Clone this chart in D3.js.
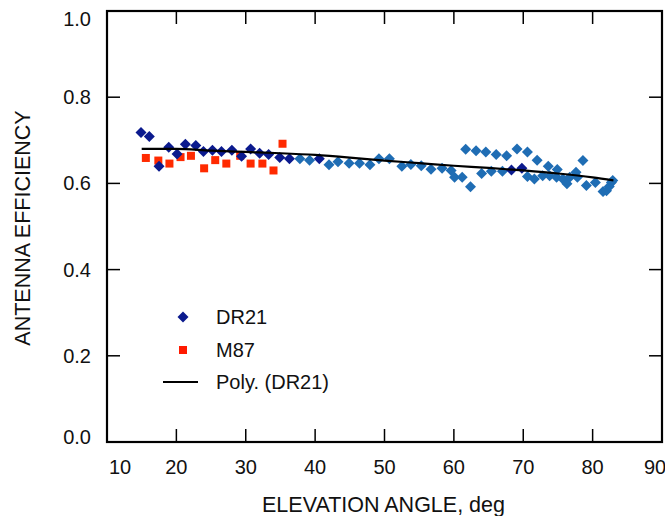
<!DOCTYPE html>
<html>
<head>
<meta charset="utf-8">
<script src="https://cdn.jsdelivr.net/npm/d3@7/dist/d3.min.js"></script>
<style>
  html, body { margin: 0; padding: 0; background: #fff; }
  svg { display: block; font-family: "Liberation Sans", Arial, Helvetica, sans-serif; }
</style>
</head>
<body>
<svg id="chart" width="665" height="516"></svg>
<script>
// DR21 scans, early session (dark markers): [elevation deg, efficiency]
const dr21Early = [
  [14.9, 0.718], [16.1, 0.709], [17.5, 0.640], [18.9, 0.684], [20.1, 0.668],
  [21.3, 0.691], [22.8, 0.688], [23.9, 0.674], [25.2, 0.677], [26.5, 0.674],
  [28.0, 0.677], [29.4, 0.663], [30.7, 0.680], [32.0, 0.670], [33.3, 0.667],
  [34.9, 0.660], [36.3, 0.657], [40.6, 0.657], [68.3, 0.631], [69.8, 0.635]
];
// DR21 scans, later session (lighter markers)
const dr21Late = [
  [37.8, 0.657], [39.2, 0.654], [42.0, 0.643], [43.3, 0.650], [44.9, 0.647],
  [46.4, 0.647], [47.9, 0.643], [49.2, 0.657], [50.7, 0.657], [52.5, 0.640],
  [53.8, 0.644], [55.3, 0.641], [56.7, 0.633], [58.3, 0.635], [59.6, 0.630],
  [60.1, 0.614], [61.2, 0.614], [61.7, 0.679], [62.4, 0.592], [63.2, 0.676],
  [64.0, 0.623], [64.6, 0.673], [65.4, 0.628], [66.1, 0.667], [67.0, 0.628],
  [67.6, 0.664], [69.1, 0.680], [70.6, 0.673], [70.6, 0.616], [71.6, 0.610],
  [72.0, 0.654], [72.8, 0.618], [73.6, 0.640], [73.8, 0.618], [74.9, 0.632],
  [74.8, 0.614], [75.7, 0.610], [76.3, 0.599], [76.7, 0.614], [77.6, 0.626],
  [77.8, 0.614], [78.6, 0.653], [79.1, 0.595], [80.4, 0.602], [81.5, 0.581],
  [82.0, 0.583], [82.4, 0.593], [82.7, 0.602], [82.9, 0.607]
];
// M87 scans
const m87 = [
  [15.6, 0.659], [17.4, 0.653], [19.0, 0.646], [20.6, 0.661], [22.1, 0.664],
  [24.0, 0.635], [25.6, 0.654], [27.2, 0.646], [29.2, 0.664], [30.7, 0.646],
  [32.4, 0.646], [34.0, 0.630], [35.3, 0.692]
];
// Polynomial trend of DR21, sampled along elevation
const polyTrend = [
  [15, 0.680], [20, 0.680], [25, 0.676], [30, 0.673], [35, 0.670],
  [40, 0.666], [45, 0.660], [50, 0.653], [55, 0.647], [60, 0.641],
  [65, 0.636], [70, 0.630], [75, 0.623], [80, 0.614], [83, 0.607]
];
const xTicks = [10, 20, 30, 40, 50, 60, 70, 80, 90];
const yTicks = [0.0, 0.2, 0.4, 0.6, 0.8, 1.0];
const legendItems = ["DR21", "M87", "Poly. (DR21)"];

const svg = d3.select("#chart");
const plotL = 107, plotR = 662, plotT = 11, plotB = 442;
const x = d3.scaleLinear().domain([10, 90]).range([plotL, plotR]);
const y = d3.scaleLinear().domain([0, 1]).range([plotB, plotT]);

const colDark = "#0b1a8e", colLight = "#1f6db4", colRed = "#ff2a00";
const tickLen = 13;

// inward ticks on all four sides
const axes = svg.append("g").attr("stroke", "#000").attr("stroke-width", 1.5);
xTicks.slice(1, -1).forEach(t => {
  axes.append("line").attr("x1", x(t)).attr("x2", x(t)).attr("y1", plotB).attr("y2", plotB - tickLen);
  axes.append("line").attr("x1", x(t)).attr("x2", x(t)).attr("y1", plotT).attr("y2", plotT + tickLen);
});
yTicks.slice(1, -1).forEach(t => {
  axes.append("line").attr("y1", y(t)).attr("y2", y(t)).attr("x1", plotL).attr("x2", plotL + tickLen);
  axes.append("line").attr("y1", y(t)).attr("y2", y(t)).attr("x1", plotR).attr("x2", plotR - tickLen);
});

// frame
svg.append("rect").attr("x", plotL).attr("y", plotT)
  .attr("width", plotR - plotL).attr("height", plotB - plotT)
  .attr("fill", "none").attr("stroke", "#000").attr("stroke-width", 2.2);

// tick labels; the end labels are pulled inward so they stay on the page
const xNudge = v => v === 10 ? 13 : (v === 90 ? -7 : 0);
svg.append("g").selectAll("text").data(xTicks).join("text")
  .attr("x", d => x(d) + xNudge(d)).attr("y", 474)
  .attr("text-anchor", "middle").attr("font-size", 20).attr("fill", "#111")
  .text(d => d);
const yNudge = v => v === 1 ? 8 : (v === 0 ? -5 : 0);
svg.append("g").selectAll("text").data(yTicks).join("text")
  .attr("x", 91).attr("y", d => y(d) + yNudge(d) + 7)
  .attr("text-anchor", "end").attr("font-size", 20).attr("fill", "#111")
  .text(d => d.toFixed(1));

// axis titles
svg.append("text").attr("x", (plotL + plotR) / 2 - 1).attr("y", 512)
  .attr("text-anchor", "middle").attr("font-size", 21.5).attr("fill", "#111")
  .text("ELEVATION ANGLE, deg");
svg.append("text").attr("transform", "translate(30,228) rotate(-90)")
  .attr("text-anchor", "middle").attr("font-size", 21.5).attr("fill", "#111")
  .text("ANTENNA EFFICIENCY");

const diamond = (g, cx, cy, c) => g.append("path")
  .attr("d", `M${cx},${cy - 5.5}L${cx + 5.5},${cy}L${cx},${cy + 5.5}L${cx - 5.5},${cy}Z`)
  .attr("fill", c);
const square = (g, cx, cy, c) => g.append("rect")
  .attr("x", cx - 4).attr("y", cy - 4).attr("width", 8).attr("height", 8).attr("fill", c);

const marks = svg.append("g");
m87.forEach(d => square(marks, x(d[0]), y(d[1]), colRed));
dr21Late.forEach(d => diamond(marks, x(d[0]), y(d[1]), colLight));
dr21Early.forEach(d => diamond(marks, x(d[0]), y(d[1]), colDark));

// trend line
svg.append("path").datum(polyTrend)
  .attr("d", d3.line().x(d => x(d[0])).y(d => y(d[1])).curve(d3.curveMonotoneX))
  .attr("fill", "none").attr("stroke", "#000").attr("stroke-width", 2.2);

// legend
const lg = svg.append("g");
const rows = [317, 350, 382];
diamond(lg, 183, rows[0], colDark);
square(lg, 183, rows[1], "#ff1a00");
lg.append("line").attr("x1", 163).attr("x2", 198).attr("y1", rows[2]).attr("y2", rows[2])
  .attr("stroke", "#000").attr("stroke-width", 2);
legendItems.forEach((t, i) => {
  lg.append("text").attr("x", 216).attr("y", rows[i] + 7)
    .attr("font-size", 20).attr("fill", "#111").text(t);
});
</script>
</body>
</html>
